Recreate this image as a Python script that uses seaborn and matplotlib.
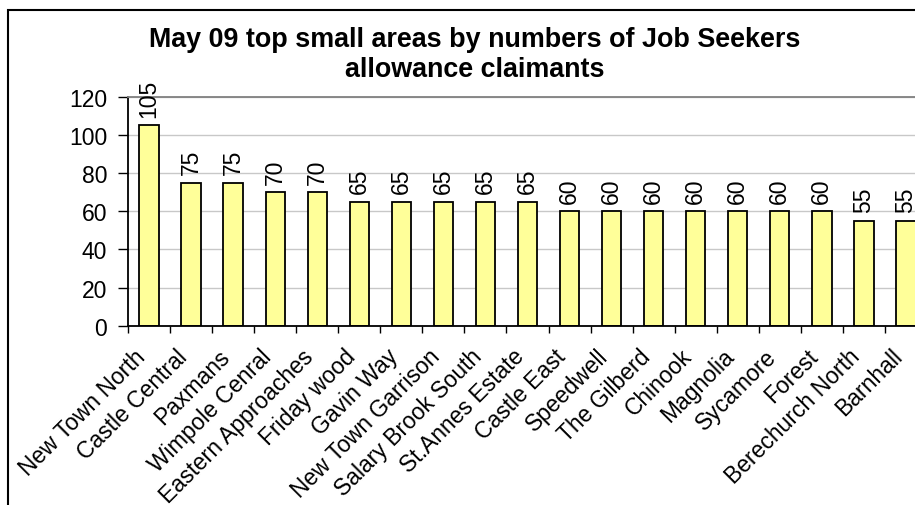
import matplotlib
matplotlib.use("Agg")
import matplotlib.pyplot as plt
from matplotlib.patches import Rectangle
from matplotlib.transforms import ScaledTranslation
import seaborn as sns
import pandas as pd

areas = ["New Town North", "Castle Central", "Paxmans", "Wimpole Cenral",
         "Eastern Approaches", "Friday wood", "Gavin Way", "New Town Garrison",
         "Salary Brook South", "St.Annes Estate", "Castle East", "Speedwell",
         "The Gilberd", "Chinook", "Magnolia", "Sycamore", "Forest",
         "Berechurch North", "Barnhall"]
claimants = [105, 75, 75, 70, 70, 65, 65, 65, 65, 65,
             60, 60, 60, 60, 60, 60, 60, 55, 55]
y_ticks = [0, 20, 40, 60, 80, 100, 120]
title = "May 09 top small areas by numbers of Job Seekers\nallowance claimants"

df = pd.DataFrame({"area": areas, "claimants": claimants})

sns.set_style("white")
plt.rcParams["font.family"] = ["Liberation Sans", "DejaVu Sans"]
plt.rcParams["text.color"] = "black"
plt.rcParams["xtick.color"] = "black"
plt.rcParams["ytick.color"] = "black"
plt.rcParams["xtick.labelcolor"] = "black"
plt.rcParams["ytick.labelcolor"] = "black"

W, H = 915, 506
fig = plt.figure(figsize=(W / 100, H / 100), dpi=100)
fig.patch.set_facecolor("white")

# plot area runs past the right edge of the picture, like the original
ax = fig.add_axes([128 / W, (H - 326.7) / H, (927 - 128) / W, (326.7 - 97.7) / H])

sns.barplot(data=df, x="area", y="claimants", color="#FFFF99", saturation=1,
            edgecolor="black", linewidth=1.3, width=0.46, ax=ax)

ax.set_ylim(0, 120)
ax.set_xlim(-0.5, len(areas) - 0.5)
ax.set_yticks(y_ticks)
ax.set_xlabel("")
ax.set_ylabel("")

ax.set_axisbelow(True)
ax.yaxis.grid(True, color="#c8c8c8", linewidth=1)
ax.xaxis.grid(False)

for side in ["left", "bottom"]:
    ax.spines[side].set_color("black")
    ax.spines[side].set_linewidth(1.3)
for side in ["top", "right"]:
    ax.spines[side].set_color("#808080")
    ax.spines[side].set_linewidth(1.3)

ax.tick_params(axis="y", direction="out", length=7, width=1, pad=8,
               labelsize=16.5, left=True, colors="black")
ax.set_xticks([i - 0.5 for i in range(len(areas) + 1)], minor=True)
ax.tick_params(axis="x", which="minor", direction="out", length=5, width=1, bottom=True)
ax.tick_params(axis="x", which="major", length=0, pad=13.5, labelsize=16.5)
ax.set_xticks(range(len(areas)))
ax.set_xticklabels(areas, rotation=45, ha="right", rotation_mode="anchor")
for lab in ax.get_xticklabels():
    lab.set_transform(lab.get_transform() + ScaledTranslation(-11 / 72, 0, fig.dpi_scale_trans))

ax.bar_label(ax.containers[0], labels=[str(v) for v in claimants],
             rotation=90, padding=6, fontsize=16.5, color="black")

fig.text(474.5 / W, 1 - 27 / H, title, ha="center", va="top", color="black",
         fontsize=19.4, fontweight="bold", linespacing=1.2)

fig.patches.append(Rectangle((8.3 / W, -0.1), 1.2, (H - 10.5) / H + 0.1,
                             transform=fig.transFigure, fill=False,
                             edgecolor="black", linewidth=1.5))

fig.savefig("out.png", dpi=100)
